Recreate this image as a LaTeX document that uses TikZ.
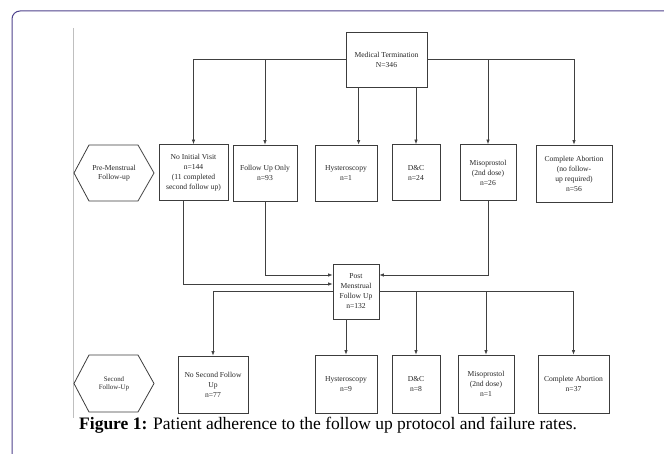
\documentclass[tikz,border=0pt]{standalone}
\usepackage{fontspec}
\setmainfont{Liberation Serif}
\usetikzlibrary{arrows.meta}
\definecolor{framepurple}{RGB}{78,66,140}
\definecolor{boxline}{RGB}{60,60,60}

\begin{document}
\begin{tikzpicture}[x=1pt, y=-1pt,
		box/.style={draw=boxline, line width=0.8pt, fill=white, align=center, inner sep=1pt, font=\fontsize{7.6}{10}\selectfont, text=black!85},
		stage/.style={align=center, inner sep=0pt, font=\fontsize{7.6}{9}\selectfont, text=black!85},
		arr/.style={draw=black!75, line width=0.7pt, -{Latex[length=4.5pt, width=3.5pt]}}]
				\useasboundingbox (0,0) rectangle (664,454);
				
				% frame and margin rule
				\draw[framepurple, line width=1pt, rounded corners=8] (12,454) -- (12,11) -- (664,11);
				\draw[black!25, line width=0.6pt] (73,28) -- (73,418);
				
				\path (386.5,59.5) node[box, minimum width=81, minimum height=55] (med){Medical Termination\\N=346}
				(193.5,172.5) node[box, minimum width=69, minimum height=56] (niv){No Initial Visit\\n=144\\(11 completed\\second follow up)}
				(265,173) node[box, minimum width=64, minimum height=56] (fuo){Follow Up Only\\n=93}
				(346,173) node[box, minimum width=62, minimum height=56] (hys1){Hysteroscopy\\n=1}
				(416,172.5) node[box, minimum width=48, minimum height=56] (dc1){D\&C\\n=24}
				(488,172.5) node[box, minimum width=56, minimum height=56] (mis1){Misoprostol\\(2nd dose)\\n=26}
				(574,173.5) node[box, minimum width=76, minimum height=57] (ca1){Complete Abortion\\(no follow-\\up required)\\n=56}
				(356,291.5) node[box, minimum width=46, minimum height=55] (post){Post\\Menstrual\\Follow Up\\n=132}
				(213,384.5) node[box, minimum width=70, minimum height=57] (nsf){No Second Follow\\Up\\n=77}
				(346,384) node[box, minimum width=62, minimum height=58] (hys2){Hysteroscopy\\n=9}
				(416,384) node[box, minimum width=48, minimum height=58] (dc2){D\&C\\n=8}
				(486,384) node[box, minimum width=56, minimum height=58] (mis2){Misoprostol\\(2nd dose)\\n=1}
				(573.5,384) node[box, minimum width=71, minimum height=58] (ca2){Complete Abortion\\n=37};
				
				% stage labels
				\path (114,173) node[stage] (pre){Pre-Menstrual\\Follow-up}
				(114,383.5) node[stage, font=\fontsize{6.9}{8}\selectfont] (second){Second\\Follow-Up};
				\draw[boxline, line width=0.8pt] (pre.center) ++(-40,0) -- ++(15,-28) -- ++(49,0) -- ++(16,28) -- ++(-16,28) -- ++(-49,0) -- cycle;
				\draw[boxline, line width=0.8pt] (second.center) ++(-40,0) -- ++(15,-28.5) -- ++(49,0) -- ++(16,28.5) -- ++(-16,28.5) -- ++(-49,0) -- cycle;
				
				% first split
				\coordinate (h1) at ([xshift=13pt]med.south west);
				\draw[arr] (med.west) -| (niv.north);
				\draw[arr] (med.west) -| (fuo.north);
				\draw[arr] (h1) -- (h1 |- hys1.north);
				\draw[arr] (med.south -| dc1.north) -- (dc1.north);
				\draw[arr] (med.east) -| (mis1.north);
				\draw[arr] (med.east) -| (ca1.north);
				
				% into post menstrual
				\draw[arr] ([xshift=-10.5pt]niv.south) |- ([yshift=7.5pt]post.west);
				\draw[arr] (fuo.south) |- ([yshift=16.5pt]post.west);
				\draw[arr] (mis1.south) |- ([yshift=16.5pt]post.east);
				
				% second split
				\draw[arr] (post.west) -| (nsf.north);
				\draw[arr] (post.south -| hys2.north) -- (hys2.north);
				\draw[arr] (post.east) -| (dc2.north);
				\draw[arr] (post.east) -| (mis2.north);
				\draw[arr] (post.east) -| (ca2.north);
				
				\path (79,425) node[anchor=west, inner sep=0pt, font=\fontsize{17.5}{20}\selectfont] (caption){\textbf{Figure 1:} Patient adherence to the follow up protocol and failure rates.};
			\end{tikzpicture}
\end{document}
